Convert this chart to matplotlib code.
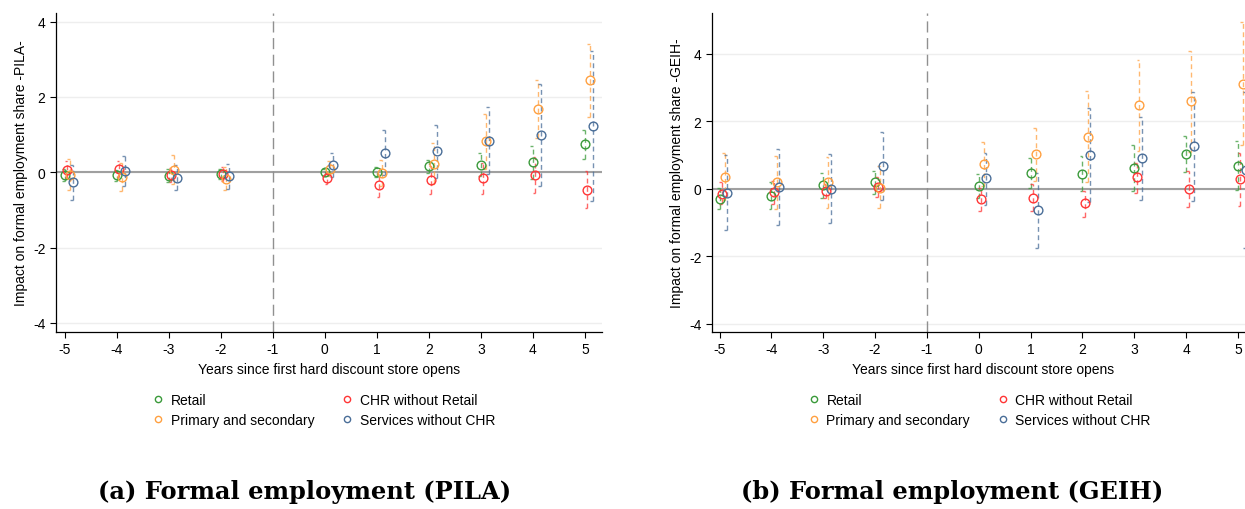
import matplotlib
matplotlib.use("Agg")
import matplotlib.pyplot as plt
from matplotlib.lines import Line2D
import numpy as np

plt.rcParams['font.family'] = ['Liberation Sans', 'DejaVu Sans']
plt.rcParams['axes.unicode_minus'] = False

years = [-5, -4, -3, -2, 0, 1, 2, 3, 4, 5]
series_names = ["Retail", "CHR without Retail", "Primary and secondary", "Services without CHR"]
colors = ["#3a9a3a", "#ff3535", "#ffa040", "#4a6e98"]

# Panel (a) PILA
pila_retail_est = [-0.08, -0.08, -0.09, -0.04, 0.00, 0.01, 0.16, 0.20, 0.27, 0.74]
pila_retail_lo = [-0.24, -0.22, -0.25, -0.17, -0.10, -0.12, -0.03, -0.10, -0.17, 0.35]
pila_retail_hi = [0.10, 0.06, 0.08, 0.10, 0.10, 0.14, 0.32, 0.51, 0.70, 1.12]
pila_chr_est = [0.07, 0.08, -0.08, -0.04, -0.16, -0.35, -0.20, -0.15, -0.07, -0.47]
pila_chr_lo = [-0.15, -0.12, -0.27, -0.22, -0.30, -0.65, -0.58, -0.57, -0.55, -0.96]
pila_chr_hi = [0.30, 0.30, 0.11, 0.15, -0.02, -0.05, 0.17, 0.26, 0.40, 0.03]
pila_prim_est = [-0.06, -0.12, 0.07, -0.17, 0.10, -0.01, 0.23, 0.82, 1.69, 2.44]
pila_prim_lo = [-0.48, -0.50, -0.30, -0.48, -0.10, -0.36, -0.30, 0.10, 0.92, 1.47]
pila_prim_hi = [0.36, 0.26, 0.45, 0.14, 0.30, 0.34, 0.77, 1.54, 2.46, 3.42]
pila_serv_est = [-0.27, 0.03, -0.14, -0.10, 0.20, 0.52, 0.56, 0.84, 0.99, 1.23]
pila_serv_lo = [-0.74, -0.36, -0.48, -0.43, -0.12, -0.08, -0.15, -0.05, -0.36, -0.77]
pila_serv_hi = [0.19, 0.42, 0.19, 0.21, 0.51, 1.12, 1.26, 1.73, 2.35, 3.22]

# Panel (b) GEIH
geih_retail_est = [-0.32, -0.23, 0.11, 0.18, 0.08, 0.46, 0.43, 0.61, 1.02, 0.68]
geih_retail_lo = [-0.61, -0.61, -0.27, -0.17, -0.27, 0.03, -0.07, -0.07, 0.49, -0.04]
geih_retail_hi = [0.01, 0.18, 0.47, 0.52, 0.42, 0.89, 0.95, 1.29, 1.56, 1.41]
geih_chr_est = [-0.15, -0.10, -0.08, 0.06, -0.32, -0.27, -0.43, 0.33, -0.02, 0.27]
geih_chr_lo = [-0.46, -0.46, -0.27, -0.24, -0.66, -0.66, -0.83, -0.14, -0.56, -0.51]
geih_chr_hi = [0.18, 0.23, 0.13, 0.33, 0.03, 0.13, -0.07, 0.77, 0.52, 1.04]
geih_prim_est = [0.35, 0.18, 0.18, 0.03, 0.73, 1.01, 1.54, 2.46, 2.58, 3.11]
geih_prim_lo = [-0.33, -0.61, -0.59, -0.58, 0.08, 0.23, 0.18, 1.11, 1.09, 1.28]
geih_prim_hi = [1.04, 0.97, 0.94, 0.67, 1.38, 1.80, 2.89, 3.80, 4.07, 4.94]
geih_serv_est = [-0.13, 0.04, 0.00, 0.66, 0.30, -0.64, 1.00, 0.90, 1.25, 0.54]
geih_serv_lo = [-1.24, -1.08, -1.02, -0.33, -0.49, -1.75, -0.39, -0.33, -0.37, -1.77]
geih_serv_hi = [0.99, 1.18, 1.03, 1.66, 1.06, 0.47, 2.39, 2.13, 2.86, 2.85]

xticks = [-5, -4, -3, -2, -1, 0, 1, 2, 3, 4, 5]
yticks = [-4, -2, 0, 2, 4]
offsets = [0.0, 0.05, 0.10, 0.15]

W, H = 1245, 510
fig = plt.figure(figsize=(W / 100, H / 100), dpi=100)


def draw_panel(rect, xlim, ylim, data, ylabel, legend_x):
    ax = fig.add_axes(rect)
    ax.set_xlim(*xlim)
    ax.set_ylim(*ylim)
    for t in yticks:
        ax.axhline(t, color="#eeeeee", lw=1.0, zorder=0)
    ax.axhline(0, color="#a0a0a0", lw=1.5, zorder=1)
    ax.axvline(-1, color="#909090", lw=1.0, ls=(0, (8, 4)), zorder=1)
    for k, (est, lo, hi) in enumerate(data):
        x = np.array(years) + offsets[k]
        c = colors[k]
        ax.vlines(x, lo, hi, colors=c, lw=1.0, linestyles=(0, (3.5, 2.5)), alpha=0.75, zorder=2)
        ax.hlines(lo, x - 0.055, x, colors=c, lw=1.0, alpha=0.75, zorder=2)
        ax.hlines(hi, x - 0.055, x, colors=c, lw=1.0, alpha=0.75, zorder=2)
        ax.plot(x, est, ls="none", marker="o", ms=6.3, mfc="none", mec=c, mew=1.0, zorder=3)
    ax.set_xticks(xticks)
    ax.set_yticks(yticks)
    ax.tick_params(axis="both", direction="out", length=4, width=0.8, labelsize=10, colors="black")
    ax.spines["top"].set_visible(False)
    ax.spines["right"].set_visible(False)
    ax.spines["left"].set_linewidth(0.9)
    ax.spines["bottom"].set_linewidth(0.9)
    ax.set_xlabel("Years since first hard discount store opens", fontsize=10, labelpad=4)
    ax.set_ylabel(ylabel, fontsize=10, labelpad=4)
    handles = [Line2D([], [], ls="none", marker="o", ms=4.5, mfc="none", mec=colors[i], mew=1.0)
               for i in [0, 2, 1, 3]]
    labels = [series_names[i] for i in [0, 2, 1, 3]]
    ax.legend(handles, labels, ncol=2, frameon=False, loc="upper left",
              bbox_to_anchor=(legend_x, -0.19), fontsize=10, handlelength=1.0,
              handletextpad=0.4, columnspacing=1.85, labelspacing=0.45, borderpad=0,
              borderaxespad=0)
    return ax


bottom = 1 - 333 / H
height = (333 - 14) / H
draw_panel([56 / W, bottom, 546 / W, height], (-5.17, 5.33), (-4.24, 4.23),
           [(pila_retail_est, pila_retail_lo, pila_retail_hi),
            (pila_chr_est, pila_chr_lo, pila_chr_hi),
            (pila_prim_est, pila_prim_lo, pila_prim_hi),
            (pila_serv_est, pila_serv_lo, pila_serv_hi)],
           "Impact on formal employment share -PILA-", 0.175)
draw_panel([712 / W, bottom, 543 / W, height], (-5.145, 5.33), (-4.25, 5.2),
           [(geih_retail_est, geih_retail_lo, geih_retail_hi),
            (geih_chr_est, geih_chr_lo, geih_chr_hi),
            (geih_prim_est, geih_prim_lo, geih_prim_hi),
            (geih_serv_est, geih_serv_lo, geih_serv_hi)],
           "Impact on formal employment share -GEIH-", 0.175)

fig.text(305 / W, 1 - 492 / H, "(a) Formal employment (PILA)", ha="center", va="center",
         fontsize=17.4, fontweight="bold", family="DejaVu Serif")
fig.text(952 / W, 1 - 492 / H, "(b) Formal employment (GEIH)", ha="center", va="center",
         fontsize=17.4, fontweight="bold", family="DejaVu Serif")

fig.savefig("out.png", dpi=100)
